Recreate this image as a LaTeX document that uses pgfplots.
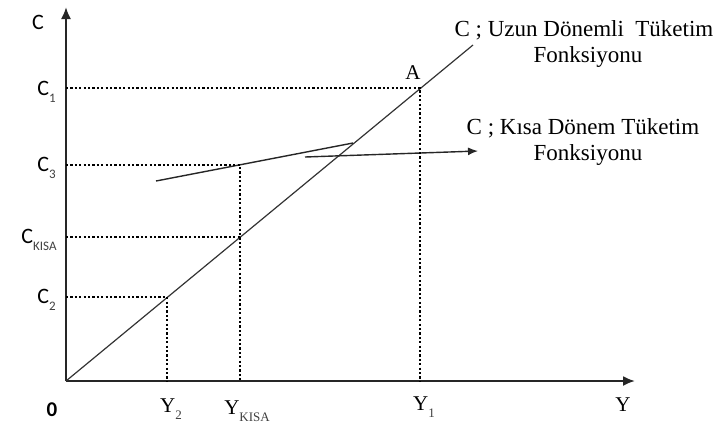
\documentclass[border=0pt]{standalone}
\usepackage{fontspec}
\setmainfont{Liberation Serif}
\newfontfamily\cfont{Carlito}
\usepackage{pgfplots}
\pgfplotsset{compat=1.18}
\usetikzlibrary{arrows.meta}
\newcommand\sub[1]{\raisebox{-0.7ex}{\fontsize{6.5}{8}\selectfont\color{black!75}#1}}
\begin{document}
\begin{tikzpicture}
\begin{axis}[scale only axis, width=358pt, height=212.5pt,
  xmin=0, xmax=716, ymin=0, ymax=425, hide axis, clip=false]
\coordinate (bl) at (axis cs:0,0);
\coordinate (tr) at (axis cs:716,425);
% axes
\addplot[black!85, line width=1pt, -{Latex[length=6pt,width=5pt]}] coordinates {(66,44) (66,418)};
\addplot[black!85, line width=1pt, -{Latex[length=6pt,width=5pt]}] coordinates {(66,44) (635,44)};
% long-run consumption
\addplot[black!80, line width=0.6pt] coordinates {(66,44) (473,380)};
% short-run consumption
\addplot[black!85, line width=0.7pt] coordinates {(156,244) (353,282)};
\addplot[black!85, line width=0.7pt, -{Latex[length=5pt,width=4pt]}] coordinates {(305,268) (478,274)};
% dotted guides
\addplot[black, line width=0.75pt, dash pattern=on 1.1pt off 1.1pt] coordinates {(66,337) (420,337) (420,44)};
\addplot[black, line width=0.75pt, dash pattern=on 1.1pt off 1.1pt] coordinates {(66,260) (240,260) (240,44)};
\addplot[black, line width=0.75pt, dash pattern=on 1.1pt off 1.1pt] coordinates {(66,188) (240,188)};
\addplot[black, line width=0.75pt, dash pattern=on 1.1pt off 1.1pt] coordinates {(66,128) (167,128) (167,44)};
% labels
\node[font=\cfont\fontsize{11}{13}\selectfont] at (axis cs:38,403) {C};
\node[anchor=east, font=\cfont\fontsize{11}{13}\selectfont, inner sep=0pt] at (axis cs:56,333) {C\sub{1}};
\node[anchor=east, font=\cfont\fontsize{11}{13}\selectfont, inner sep=0pt] at (axis cs:56,257) {C\sub{3}};
\node[anchor=east, font=\cfont\fontsize{11}{13}\selectfont, inner sep=0pt] at (axis cs:57,185) {C\sub{KISA}};
\node[anchor=east, font=\cfont\fontsize{11}{13}\selectfont, inner sep=0pt] at (axis cs:56,125) {C\sub{2}};
\node[font=\cfont\bfseries\fontsize{10.5}{12}\selectfont] at (axis cs:52,15) {0};
\node[font=\fontsize{10.5}{12}\selectfont] at (axis cs:171,16) {Y\sub{2}};
\node[font=\fontsize{10.5}{12}\selectfont] at (axis cs:247,14) {Y\sub{KISA}};
\node[font=\fontsize{10.5}{12}\selectfont] at (axis cs:424,18) {Y\sub{1}};
\node[font=\fontsize{10.5}{12}\selectfont] at (axis cs:623,20) {Y};
\node[font=\fontsize{10.5}{12}\selectfont] at (axis cs:413,352) {A};
\node[font=\fontsize{11.5}{14}\selectfont, inner sep=0pt] at (axis cs:584,395) {C ; Uzun Dönemli\ \ Tüketim};
\node[font=\fontsize{11.5}{14}\selectfont, inner sep=0pt] at (axis cs:588,368) {Fonksiyonu};
\node[font=\fontsize{11.5}{14}\selectfont, inner sep=0pt] at (axis cs:583,297) {C ; Kısa Dönem Tüketim};
\node[font=\fontsize{11.5}{14}\selectfont, inner sep=0pt] at (axis cs:588,270) {Fonksiyonu};
\end{axis}
\pgfresetboundingbox
\path (bl) rectangle (tr);
\end{tikzpicture}
\end{document}
